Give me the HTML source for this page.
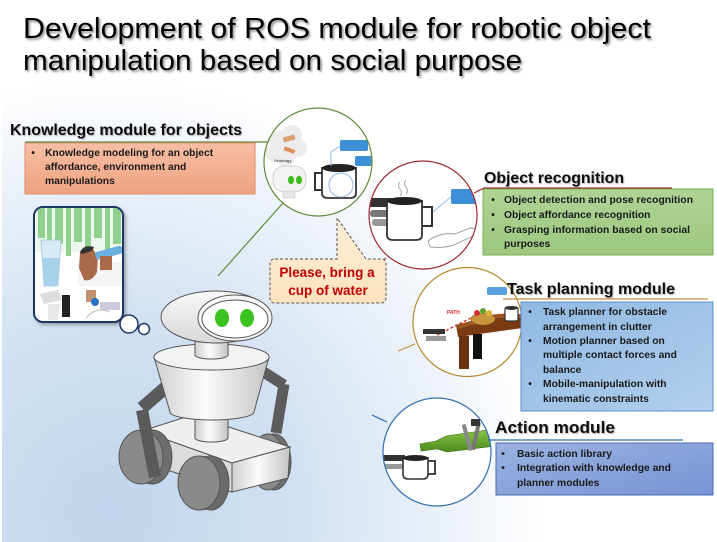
<!DOCTYPE html>
<html><head><meta charset="utf-8"><style>
html,body{margin:0;padding:0;background:#fff;}
svg{display:block;}
text{font-family:"Liberation Sans", Arial, sans-serif;}
</style></head><body>
<svg width="717" height="542" viewBox="0 0 717 542" xmlns="http://www.w3.org/2000/svg">
<defs>
 <radialGradient id="bg" gradientUnits="userSpaceOnUse" cx="110" cy="510" r="540">
  <stop offset="0" stop-color="#bfd6ee"/>
  <stop offset="0.35" stop-color="#d1e1f2"/>
  <stop offset="0.62" stop-color="#ebf1f9"/>
  <stop offset="0.8" stop-color="#ffffff"/>
 </radialGradient>
 <filter id="tsh" x="-5%" y="-20%" width="110%" height="150%">
  <feDropShadow dx="1.6" dy="1.8" stdDeviation="1" flood-color="#000" flood-opacity="0.45"/>
 </filter>
 <filter id="hsh" x="-5%" y="-20%" width="110%" height="150%">
  <feDropShadow dx="1" dy="1" stdDeviation="0.6" flood-color="#000" flood-opacity="0.3"/>
 </filter>
 <filter id="bsh" x="-10%" y="-10%" width="130%" height="130%">
  <feDropShadow dx="2" dy="2" stdDeviation="1.5" flood-color="#000" flood-opacity="0.3"/>
 </filter>
 <linearGradient id="gK" x1="0" y1="0" x2="0" y2="1"><stop offset="0" stop-color="#f6bea4"/><stop offset="1" stop-color="#f0a281"/></linearGradient>
 <linearGradient id="gO" x1="0" y1="0" x2="0" y2="1"><stop offset="0" stop-color="#afd495"/><stop offset="1" stop-color="#9cc87f"/></linearGradient>
 <linearGradient id="gT" x1="0" y1="0" x2="1" y2="1"><stop offset="0" stop-color="#8fb9e2"/><stop offset="1" stop-color="#b3cfee"/></linearGradient>
 <linearGradient id="gA" x1="0" y1="0" x2="1" y2="1"><stop offset="0" stop-color="#9ab3e2"/><stop offset="1" stop-color="#7893d3"/></linearGradient>
 <linearGradient id="gB" x1="0" y1="0" x2="0" y2="1"><stop offset="0" stop-color="#fdeed6"/><stop offset="1" stop-color="#fde2bf"/></linearGradient>
 <linearGradient id="gBody" x1="0" y1="0" x2="1" y2="0"><stop offset="0" stop-color="#cfcfcf"/><stop offset="0.45" stop-color="#fbfbfb"/><stop offset="1" stop-color="#c4c4c4"/></linearGradient>
 <linearGradient id="gHead" x1="0" y1="0" x2="0" y2="1"><stop offset="0" stop-color="#f8f8f8"/><stop offset="1" stop-color="#d8d8d8"/></linearGradient>
 <linearGradient id="gBottle" x1="0" y1="0" x2="0" y2="1"><stop offset="0" stop-color="#8cc84a"/><stop offset="1" stop-color="#4a8a1e"/></linearGradient>
 <clipPath id="c1"><circle cx="318" cy="162" r="54"/></clipPath>
 <clipPath id="c2"><circle cx="423" cy="215" r="54"/></clipPath>
 <clipPath id="c3"><circle cx="467.5" cy="322" r="54.5"/></clipPath>
 <clipPath id="c4"><circle cx="437" cy="452" r="54"/></clipPath>
 <clipPath id="cp"><rect x="35" y="208" width="87" height="113" rx="8"/></clipPath>
</defs>

<rect x="0" y="0" width="717" height="542" fill="url(#bg)"/>
<rect x="0" y="0" width="2" height="542" fill="#fff"/>

<!-- Title -->
<g filter="url(#tsh)" fill="#000">
 <text x="23" y="38" font-size="29" textLength="628" lengthAdjust="spacingAndGlyphs">Development of ROS module for robotic object</text>
 <text x="23" y="70" font-size="29" textLength="499" lengthAdjust="spacingAndGlyphs">manipulation based on social purpose</text>
</g>

<!-- Knowledge module -->
<text x="10" y="135" font-size="16" font-weight="bold" fill="#111" filter="url(#hsh)" textLength="232" lengthAdjust="spacingAndGlyphs">Knowledge module for objects</text>
<line x1="25" y1="142" x2="268" y2="142" stroke="#5e8b3a" stroke-width="1.2"/>
<rect x="25" y="143" width="230" height="51" fill="url(#gK)" stroke="#dc8c6c" stroke-width="1"/>
<g font-size="10.3" font-weight="bold" fill="#1a1a1a">
 <text x="33" y="156" text-anchor="middle">•</text>
 <text x="45" y="156">Knowledge modeling for an object</text>
 <text x="45" y="170">affordance, environment and</text>
 <text x="45" y="184">manipulations</text>
</g>

<!-- connectors -->
<line x1="283" y1="203" x2="218" y2="276" stroke="#5e8b3a" stroke-width="1.2"/>
<polyline points="474,193 484,188 672,188" fill="none" stroke="#a0282d" stroke-width="1.2"/>
<line x1="398" y1="351" x2="415" y2="344" stroke="#c09040" stroke-width="1.2"/>
<line x1="372" y1="415" x2="387" y2="422" stroke="#2f6fb0" stroke-width="1.2"/>
<line x1="386" y1="258" x2="379" y2="264" stroke="#a0282d" stroke-width="1"/>

<!-- Knowledge circle -->
<circle cx="318" cy="162" r="54" fill="#fff"/>
<g clip-path="url(#c1)">
 <g fill="#ececec">
  <circle cx="279" cy="141" r="10"/><circle cx="292" cy="135" r="10"/><circle cx="298" cy="148" r="9"/>
  <circle cx="285" cy="155" r="11"/><circle cx="273" cy="153" r="8"/>
 </g>
 <rect x="283" y="136" width="12" height="5" fill="#d9a070" transform="rotate(-15 289 138)"/>
 <rect x="284" y="148" width="11" height="4" fill="#e0905a" transform="rotate(20 289 150)"/>
 <text x="274" y="162" font-size="4" fill="#555" font-weight="bold">Ontology</text>
 <rect x="273" y="166" width="33" height="26" rx="11" fill="#f3f3f3" stroke="#c8c8c8" stroke-width="0.8"/>
 <ellipse cx="291" cy="180" rx="3" ry="4.2" fill="#3cba1e"/>
 <ellipse cx="299" cy="180" rx="3" ry="4.2" fill="#3cba1e"/>
 <rect x="283" y="191" width="12" height="7" fill="#e6e6e6" stroke="#ccc" stroke-width="0.6"/>
 <path d="M323,173 h-8 v17 h8" fill="none" stroke="#333" stroke-width="2"/>
 <path d="M322,167 L322,193 Q322,198 328,198 L350,198 Q356,198 356,193 L356,167" fill="#fff" stroke="#333" stroke-width="1.8"/>
 <ellipse cx="339" cy="168" rx="17" ry="4" fill="#222"/>
 <circle cx="341" cy="185" r="12" fill="none" stroke="#8fb8e0" stroke-width="1"/>
 <polyline points="340,146 331,152 331,166" fill="none" stroke="#8fb8e0" stroke-width="1"/>
 <rect x="340" y="140" width="28" height="11" rx="2" fill="#3d8fd8"/>
 <rect x="355" y="156" width="20" height="10" rx="2" fill="#3d8fd8"/>
</g>
<circle cx="318" cy="162" r="54" fill="none" stroke="#5e8b3a" stroke-width="1.2"/>

<!-- Object recognition circle -->
<circle cx="423" cy="215" r="54" fill="#fff"/>
<g clip-path="url(#c2)">
 <rect x="366" y="198" width="26" height="9" fill="#333"/>
 <rect x="370" y="210" width="32" height="7" rx="3" fill="#777"/>
 <rect x="372" y="219" width="26" height="7" rx="3" fill="#999"/>
 <path d="M400,182 q-3,4 0,7 q3,4 0,7 M406,180 q-3,4 0,7 q3,4 0,7" fill="none" stroke="#aaa" stroke-width="1"/>
 <path d="M422,207 h10 v19 h-10" fill="none" stroke="#333" stroke-width="2"/>
 <path d="M387,200 L387,235 Q387,240 393,240 L416,240 Q422,240 422,235 L422,200" fill="#fff" stroke="#333" stroke-width="1.8"/>
 <ellipse cx="404.5" cy="201" rx="17.5" ry="4" fill="#222"/>
 <polyline points="451,197 441,205 433,212" fill="none" stroke="#8fb8e0" stroke-width="1"/>
 <rect x="451" y="189" width="30" height="15" rx="2" fill="#3d8fd8"/>
 <path d="M428,241 Q440,232 455,234 L470,228 Q479,228 476,235 L462,241 Q450,249 430,247 Z" fill="#fff" stroke="#999" stroke-width="0.9"/>
</g>
<circle cx="423" cy="215" r="54" fill="none" stroke="#a0282d" stroke-width="1.2"/>
<text x="484" y="183" font-size="16" font-weight="bold" fill="#111" filter="url(#hsh)" textLength="140" lengthAdjust="spacingAndGlyphs">Object recognition</text>
<rect x="483" y="189" width="230" height="66" fill="url(#gO)" stroke="#78ad55" stroke-width="1"/>
<g font-size="10.3" font-weight="bold" fill="#1a1a1a">
 <text x="493" y="203" text-anchor="middle">•</text>
 <text x="504" y="203" textLength="189" lengthAdjust="spacing">Object detection and pose recognition</text>
 <text x="493" y="218" text-anchor="middle">•</text>
 <text x="504" y="218">Object affordance recognition</text>
 <text x="493" y="233" text-anchor="middle">•</text>
 <text x="504" y="233" textLength="186" lengthAdjust="spacing">Grasping information based on social</text>
 <text x="504" y="247">purposes</text>
</g>

<!-- Speech bubble -->
<path d="M275,259 L337,259 L337,218 L366,259 L381,259 Q386,259 386,264 L386,298 Q386,303 381,303 L275,303 Q270,303 270,298 L270,264 Q270,259 275,259 Z" fill="url(#gB)" stroke="#555" stroke-width="1" stroke-dasharray="3,2"/>
<g font-size="13.5" font-weight="bold" fill="#c00000" text-anchor="middle">
 <text x="327" y="277">Please, bring a</text>
 <text x="328" y="295">cup of water</text>
</g>

<!-- Task planning circle -->
<circle cx="467.5" cy="322" r="54.5" fill="#fff"/>
<g clip-path="url(#c3)">
 <text x="447" y="314" font-size="5" font-weight="bold" fill="#e03030">PATH</text>
 <polyline points="437,335 473,317 505,314" fill="none" stroke="#e04040" stroke-width="1.5" stroke-dasharray="3,2"/>
 <polygon points="456,325 498,314 530,314 530,327 458,337" fill="#7a3a12"/>
 <polygon points="456,325 498,314 530,314 530,318 498,318 458,329" fill="#9a5522"/>
 <rect x="459" y="336" width="10" height="33" fill="#6b3410"/>
 <rect x="473" y="334" width="9" height="25" fill="#111"/>
 <ellipse cx="483" cy="319" rx="12" ry="6" fill="#c8963c" stroke="#8a6020" stroke-width="0.6"/>
 <circle cx="477" cy="313" r="3" fill="#d03030"/>
 <circle cx="483" cy="311" r="3" fill="#60a030"/>
 <circle cx="489" cy="313" r="3" fill="#e0b030"/>
 <rect x="505" y="307" width="13" height="14" rx="2" fill="#fff" stroke="#333" stroke-width="1.2"/>
 <ellipse cx="511.5" cy="308" rx="6" ry="2" fill="#333"/>
 <rect x="423" y="329" width="22" height="5" fill="#333"/>
 <rect x="426" y="336" width="20" height="5" fill="#999"/>
 <rect x="487" y="287" width="20" height="8" rx="2" fill="#5aa0e0"/>
</g>
<circle cx="467.5" cy="322" r="54.5" fill="none" stroke="#b8862b" stroke-width="1.2"/>
<text x="507" y="294" font-size="16" font-weight="bold" fill="#111" filter="url(#hsh)" textLength="168" lengthAdjust="spacingAndGlyphs">Task planning module</text>
<line x1="503" y1="299" x2="708" y2="299" stroke="#c09040" stroke-width="1.2"/>
<rect x="521" y="302" width="192" height="109" fill="url(#gT)" stroke="#5b8fc7" stroke-width="1"/>
<g font-size="10.3" font-weight="bold" fill="#1a1a1a">
 <text x="530" y="315" text-anchor="middle">•</text>
 <text x="543" y="315">Task planner  for obstacle</text>
 <text x="543" y="330">arrangement in clutter</text>
 <text x="530" y="344" text-anchor="middle">•</text>
 <text x="543" y="344">Motion  planner based on</text>
 <text x="543" y="358">multiple contact forces and</text>
 <text x="543" y="373">balance</text>
 <text x="530" y="387" text-anchor="middle">•</text>
 <text x="543" y="387">Mobile-manipulation  with</text>
 <text x="543" y="402">kinematic constraints</text>
</g>

<!-- Action circle -->
<circle cx="437" cy="452" r="54" fill="#fff"/>
<g clip-path="url(#c4)">
 <polygon points="420,444 436,441 446,436 494,429 496,446 447,452 437,449 421,451" fill="url(#gBottle)" stroke="#3e6e18" stroke-width="0.6"/>
 <rect x="465" y="424" width="4" height="27" fill="#888" transform="rotate(-15 467 437)"/>
 <rect x="474" y="422" width="4" height="28" fill="#777" transform="rotate(12 476 436)"/>
 <rect x="471" y="419" width="9" height="7" fill="#333"/>
 <rect x="381" y="455" width="24" height="6" fill="#333"/>
 <rect x="384" y="464" width="22" height="5" fill="#999"/>
 <path d="M428,461 h7 v13 h-7" fill="none" stroke="#333" stroke-width="1.8"/>
 <path d="M403,457 L403,474 Q403,479 408,479 L423,479 Q428,479 428,474 L428,457" fill="#fff" stroke="#333" stroke-width="1.6"/>
 <ellipse cx="415.5" cy="458" rx="12.5" ry="3" fill="#222"/>
</g>
<circle cx="437" cy="452" r="54" fill="none" stroke="#2f6fb0" stroke-width="1.2"/>
<text x="495" y="433" font-size="16.5" font-weight="bold" fill="#111" filter="url(#hsh)" textLength="120" lengthAdjust="spacingAndGlyphs">Action module</text>
<line x1="488" y1="440" x2="683" y2="440" stroke="#2f6fb0" stroke-width="1.2"/>
<rect x="496" y="443" width="217" height="52" fill="url(#gA)" stroke="#4a6ab0" stroke-width="1"/>
<g font-size="10.3" font-weight="bold" fill="#1a1a1a">
 <text x="503" y="457" text-anchor="middle">•</text>
 <text x="517" y="457">Basic action library</text>
 <text x="503" y="471" text-anchor="middle">•</text>
 <text x="517" y="471">Integration  with knowledge and</text>
 <text x="517" y="486">planner modules</text>
</g>

<!-- Picture box -->
<rect x="34" y="207" width="89" height="115" rx="9" fill="#fff" stroke="#1f3864" stroke-width="2" filter="url(#bsh)"/>
<g clip-path="url(#cp)">
 <rect x="35" y="208" width="87" height="44" fill="#eef7ee"/>
 <g fill="#8fd08f">
  <rect x="38" y="208" width="7" height="30"/><rect x="47" y="208" width="5" height="44"/>
  <rect x="55" y="208" width="8" height="36"/><rect x="66" y="208" width="5" height="48"/>
  <rect x="74" y="208" width="8" height="34"/><rect x="85" y="208" width="6" height="40"/>
  <rect x="94" y="208" width="8" height="30"/><rect x="105" y="208" width="5" height="44"/>
  <rect x="113" y="208" width="8" height="36"/>
 </g>
 <path d="M41,240 L61,240 L58,286 L44,286 Z" fill="#d6ebf5" stroke="#9cc4d8" stroke-width="0.8"/>
 <path d="M42,258 L60,258 L58,286 L44,286 Z" fill="#a8d2ec"/>
 <rect x="78" y="262" width="44" height="24" fill="#f4f4f4"/>
 <path d="M80,252 Q84,246 92,248 L98,256 L97,272 Q92,282 84,280 L79,268 Z" fill="#a86a48"/>
 <path d="M80,252 Q84,244 94,247 L92,251 L82,254 Z" fill="#333"/>
 <rect x="95" y="249" width="28" height="8" rx="3" fill="#6ab0e0" transform="rotate(-15 108 253)"/>
 <rect x="100" y="256" width="12" height="14" fill="#a86a48"/>
 <path d="M40,294 L58,290 L62,300 L44,304 Z" fill="#ddd"/>
 <rect x="62" y="295" width="8" height="22" fill="#222"/>
 <path d="M48,304 L60,304 L58,320 L48,320 Z" fill="#e8e8e8"/>
 <rect x="86" y="290" width="10" height="12" fill="#c09070"/>
 <circle cx="95" cy="302" r="4" fill="#2a70c0"/>
 <rect x="100" y="302" width="20" height="8" fill="#ccd"/>
 <path d="M86,318 Q96,306 110,312" fill="none" stroke="#bbb" stroke-width="1"/>
</g>
<circle cx="129" cy="324" r="9" fill="#fff" stroke="#1f3864" stroke-width="1.5"/>
<circle cx="144" cy="329" r="5.5" fill="#fff" stroke="#1f3864" stroke-width="1.5"/>

<!-- Robot -->
<g stroke="#555" stroke-width="1">
 <!-- right back wheel -->
 <ellipse cx="274" cy="462" rx="17" ry="28" fill="#6e6e6e"/>
 <ellipse cx="268" cy="462" rx="17" ry="28" fill="#8a8a8a"/>
 <!-- right arm -->
 <line x1="262" y1="371" x2="284" y2="385" stroke="#5c5c5c" stroke-width="11"/>
 <line x1="284" y1="384" x2="276" y2="433" stroke="#5c5c5c" stroke-width="11"/>
 <!-- base -->
 <polygon points="142,431 192,415 290,447 232,463" fill="#efefef"/>
 <polygon points="232,463 290,447 288,478 232,492" fill="url(#gBody)"/>
 <polygon points="142,431 232,463 232,492 144,462" fill="#dcdcdc"/>
 <!-- left back wheel -->
 <ellipse cx="152" cy="457" rx="20" ry="27" fill="#6e6e6e"/>
 <ellipse cx="141" cy="457" rx="22" ry="27" fill="#8a8a8a"/>
 <!-- left arm -->
 <line x1="173" y1="381" x2="142" y2="408" stroke="#5a5a5a" stroke-width="13"/>
 <line x1="142" y1="410" x2="155" y2="477" stroke="#5a5a5a" stroke-width="12"/>
 <!-- front wheel -->
 <ellipse cx="211" cy="483" rx="18" ry="27" fill="#6a6a6a"/>
 <rect x="199" y="456" width="12" height="54" fill="#6a6a6a" stroke="none"/>
 <ellipse cx="199" cy="483" rx="21" ry="27" fill="#8a8a8a"/>
 <!-- lower neck -->
 <path d="M195,412 L195,438 A16.5,4 0 0 0 228,438 L228,412 Z" fill="url(#gBody)"/>
 <!-- body -->
 <path d="M154,357 L170,412 A42,8 0 0 0 254,412 L269,357 Z" fill="url(#gBody)"/>
 <ellipse cx="211.5" cy="357" rx="57.5" ry="13" fill="#f2f2f2"/>
 <!-- neck -->
 <path d="M195,338 L195,355 A16.5,4 0 0 0 228,355 L228,338 Z" fill="url(#gBody)"/>
 <!-- head -->
 <ellipse cx="216" cy="317" rx="55" ry="26" fill="url(#gHead)"/>
 <ellipse cx="235" cy="318" rx="37" ry="23" fill="#f6f6f6"/>
 <ellipse cx="235" cy="319" rx="33" ry="19" fill="#fff"/>
</g>
<ellipse cx="222" cy="318" rx="7" ry="9" fill="#3cc21e"/>
<ellipse cx="247" cy="318" rx="7" ry="9" fill="#3cc21e"/>
</svg>
</body></html>
